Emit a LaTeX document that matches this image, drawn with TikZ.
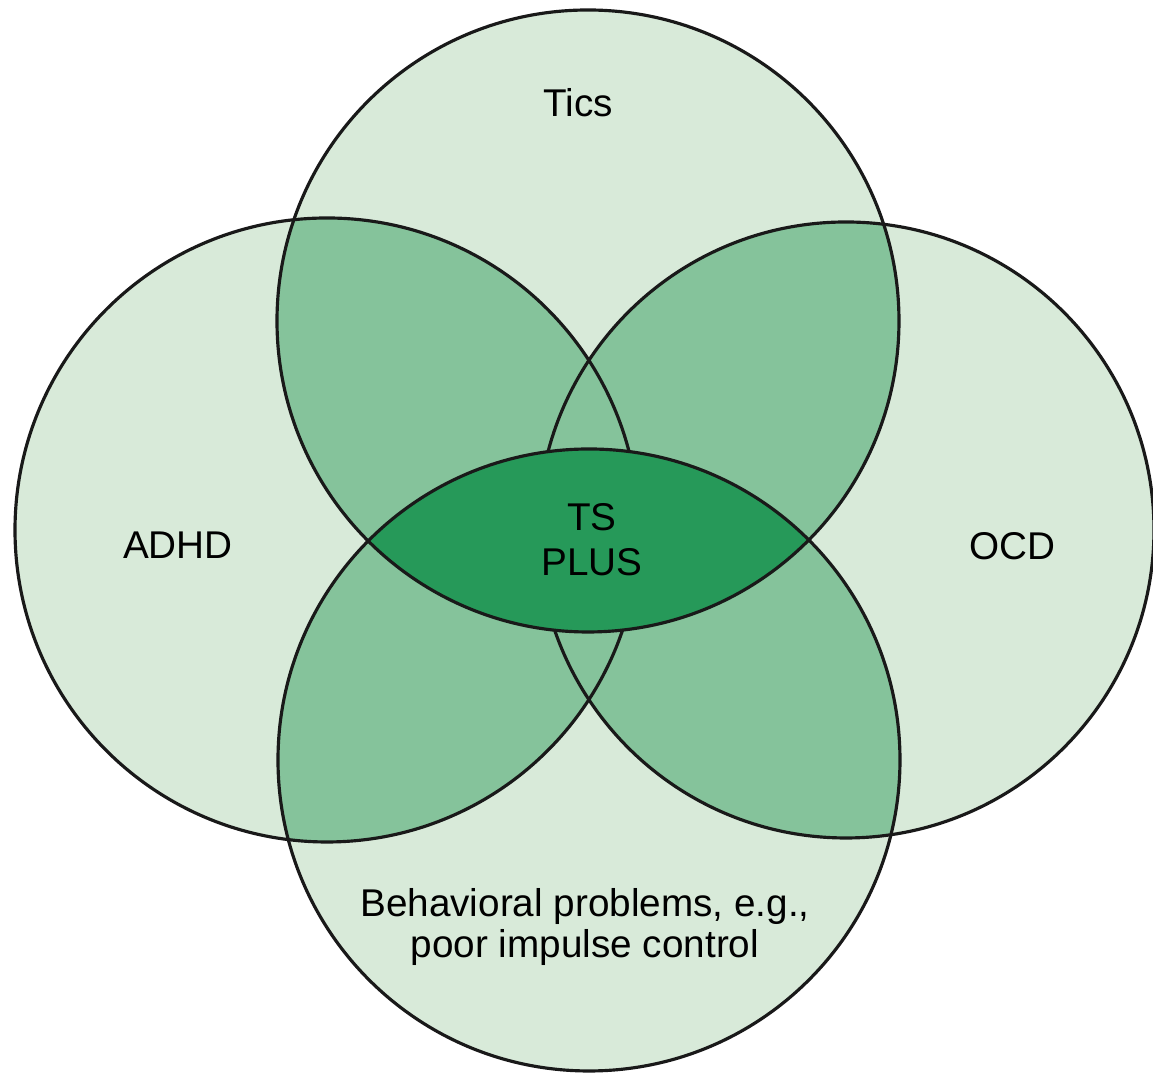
\documentclass[tikz,border=0pt]{standalone}
\usepackage{fontspec}
\setmainfont{Liberation Sans}
\usepackage{xcolor}
\usetikzlibrary{positioning}

\definecolor{lightgreen}{RGB}{216,234,217}
\definecolor{midgreen}{RGB}{133,195,155}
\definecolor{darkgreen}{RGB}{38,153,89}

\newcommand{\ticscircle}{(588,321) circle [radius=311]}
\newcommand{\adhdcircle}{(327,530) circle [radius=312]}
\newcommand{\ocdcircle}{(846,530) circle [radius=308]}
\newcommand{\behavcircle}{(589,760) circle [radius=311]}

\begin{document}
\begin{tikzpicture}[x=0.01cm, y=-0.01cm,
    outline/.style={draw=black!90, line width=0.9pt},
    vennlabel/.style={font=\fontsize{11}{12.8}\selectfont, align=center, inner sep=0pt}]
    \useasboundingbox (0,0) rectangle (1153,1074);

    \fill[lightgreen] \ticscircle;
    \fill[lightgreen] \adhdcircle;
    \fill[lightgreen] \ocdcircle;
    \fill[lightgreen] \behavcircle;

    % two-way overlaps
    \begin{scope}
        \clip \ticscircle;
        \fill[midgreen] \adhdcircle;
        \fill[midgreen] \ocdcircle;
    \end{scope}
    \begin{scope}
        \clip \behavcircle;
        \fill[midgreen] \adhdcircle;
        \fill[midgreen] \ocdcircle;
    \end{scope}
    \begin{scope}
        \clip \adhdcircle;
        \fill[midgreen] \ocdcircle;
    \end{scope}

    \draw[outline] \adhdcircle;
    \draw[outline] \ocdcircle;

    % centre lens, covers the side outlines
    \begin{scope}
        \clip \ticscircle;
        \fill[darkgreen] \behavcircle;
    \end{scope}

    \draw[outline] \ticscircle;
    \draw[outline] \behavcircle;

    \node[vennlabel] (tics) at (578,103) {Tics};
    \node[vennlabel] (adhd) at (178,545) {ADHD};
    \node[vennlabel] (ocd) at (1012,546) {OCD};
    \node[vennlabel] (tsplus) at (592,540) {TS\\PLUS};
    \node[vennlabel, font=\fontsize{11}{11.4}\selectfont] (behav) at (585,927)
        {Behavioral problems, e.g.,\\poor impulse control};
\end{tikzpicture}
\end{document}
